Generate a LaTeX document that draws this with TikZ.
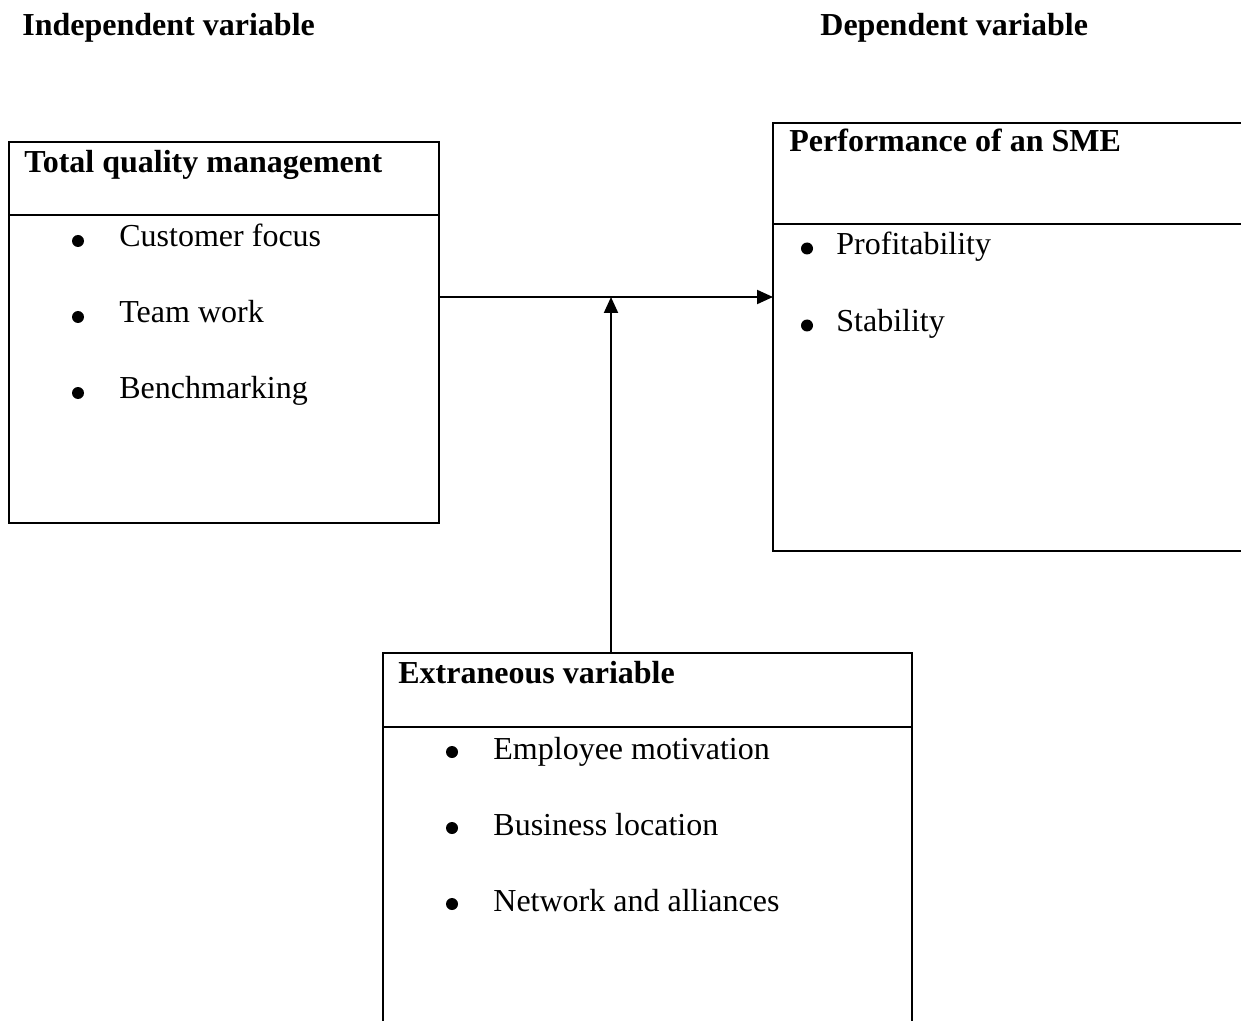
\documentclass[tikz,border=0pt]{standalone}
\usepackage{fontspec}
\setmainfont{Liberation Serif}
\usetikzlibrary{arrows.meta}
\tikzset{
  boxline/.style={line width=0.8pt},
  arr/.style={line width=1pt,-{Triangle[length=8pt,width=7pt]}},
  txt/.style={anchor=base west,inner sep=0pt,font=\fontsize{16pt}{19pt}\selectfont},
  ttl/.style={txt,font=\fontsize{16pt}{19pt}\selectfont\bfseries},
  bul/.style={circle,fill=black,inner sep=0pt,minimum size=6pt},
  frame/.style={inner sep=0pt,outer sep=0pt,anchor=north west}
}
\begin{document}
\begin{tikzpicture}[x=0.5pt,y=-0.5pt]
\useasboundingbox (0,0) rectangle (1241,1021);
\clip (0,0) rectangle (1241,1021);
% headings
\node[ttl] (hind) at (22,36) {Independent variable};
\node[ttl] (hdep) at (820,36) {Dependent variable};
% TQM box
\node[frame,draw,boxline,minimum width=215pt,minimum height=190.5pt] (tqm) at (9,142) {};
\draw[boxline] (tqm.west |- 0,215) -- (tqm.east |- 0,215);
\node[ttl] (tqmt) at (24,173) {Total quality management};
\node[bul] (b1) at (78,241) {};
\node[txt] (t1) at (119,247) {Customer focus};
\node[bul] (b2) at (78,317) {};
\node[txt] (t2) at (119,323) {Team work};
\node[bul] (b3) at (78,393) {};
\node[txt] (t3) at (119,399) {Benchmarking};
% Performance box (open at right edge)
\node[frame,minimum width=240pt,minimum height=214pt] (perf) at (773,123) {};
\draw[boxline] (perf.north east) -- (perf.north west) -- (perf.south west) -- (perf.south east);
\draw[boxline] (perf.west |- 0,224) -- (perf.east |- 0,224);
\node[ttl] (perft) at (789,152) {Performance of an SME};
\node[bul] (b4) at (807,248.5) {};
\node[txt] (t4) at (836,255) {Profitability};
\node[bul] (b5) at (807,325.5) {};
\node[txt] (t5) at (836,332) {Stability};
% Extraneous box (open at bottom edge)
\node[frame,minimum width=264.5pt,minimum height=190pt] (ext) at (383,653) {};
\draw[boxline] (ext.south west) -- (ext.north west) -- (ext.north east) -- (ext.south east);
\draw[boxline] (ext.west |- 0,727) -- (ext.east |- 0,727);
\node[ttl] (extt) at (398,683) {Extraneous variable};
\node[bul] (b6) at (452,752) {};
\node[txt] (t6) at (493,759) {Employee motivation};
\node[bul] (b7) at (452,828) {};
\node[txt] (t7) at (493,835) {Business location};
\node[bul] (b8) at (452,904) {};
\node[txt] (t8) at (493,911) {Network and alliances};
% connectors
\coordinate (j) at (611,297);
\draw[arr] (tqm.east |- j) -- (perf.west |- j);
\draw[arr] (ext.north -| j) -- (j);
\end{tikzpicture}
\end{document}
